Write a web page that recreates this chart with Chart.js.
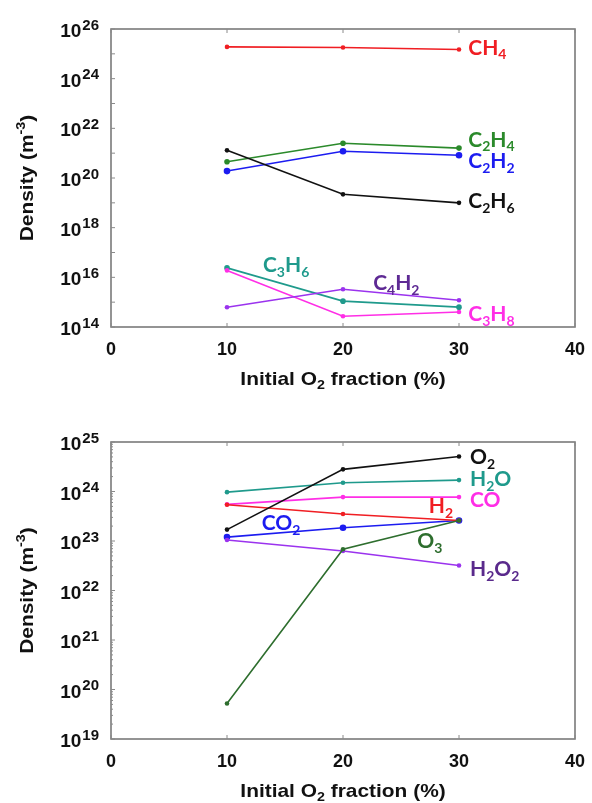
<!DOCTYPE html>
<html>
<head>
<meta charset="utf-8">
<script src="https://cdn.jsdelivr.net/npm/chart.js@4/dist/chart.umd.min.js"></script>
<style>
  html, body { margin: 0; padding: 0; background: #fff; }
  #wrap { position: relative; width: 592px; height: 803px; }
  .box { position: absolute; left: 0; width: 592px; }
</style>
</head>
<body>
<div id="wrap">
  <div class="box" style="top:0;height:400px"><canvas id="c1" width="592" height="400"></canvas></div>
  <div class="box" style="top:400px;height:403px"><canvas id="c2" width="592" height="403"></canvas></div>
</div>
<script>
// ---------- DATA ----------
const xValues = [10, 20, 30];
const xTicks = [0, 10, 20, 30, 40];

// Top panel: hydrocarbons (m^-3)
const CH4  = [1.9e25, 1.8e25, 1.5e25];
const C2H4 = [4.5e20, 2.5e21, 1.6e21];
const C2H2 = [1.9e20, 1.2e21, 8.3e20];
const C2H6 = [1.3e21, 2.2e19, 1.0e19];
const C3H6 = [2.4e16, 1.1e15, 6.3e14];
const C3H8 = [1.9e16, 2.7e14, 4.0e14];
const C4H2 = [6.2e14, 3.3e15, 1.2e15];
const topExponents = [14, 16, 18, 20, 22, 24, 26];

// Bottom panel: oxygen species (m^-3)
const O2   = [1.7e23, 2.8e24, 5.1e24];
const H2O  = [9.7e23, 1.5e24, 1.7e24];
const CO   = [5.5e23, 7.7e23, 7.7e23];
const H2   = [5.4e23, 3.5e23, 2.6e23];
const CO2  = [1.2e23, 1.85e23, 2.6e23];
const H2O2 = [1.05e23, 6.3e22, 3.2e22];
const O3   = [5.2e19, 6.8e22, 2.6e23];
const bottomExponents = [19, 20, 21, 22, 23, 24, 25];

const xTitle = 'Initial O_2 fraction (%)';
const yTitle = 'Density (m^-3)';

// ---------- STYLES ----------
const COL = {
  red: '#f01e23', green: '#2b8a2b', blue: '#1c1cf0', black: '#111111',
  teal: '#1f9a8c', magenta: '#ff2ee6', purple: '#9b33ee', dkgreen: '#2e6e2e'
};

function ds(label, values, color, r) {
  return {
    label, data: values.map((v, i) => ({ x: xValues[i], y: v })),
    borderColor: color, backgroundColor: color, borderWidth: 1.6,
    pointRadius: r || 2.3, pointHoverRadius: r || 2.3, pointBorderWidth: 0, tension: 0
  };
}

function drawRich(ctx, str, x, y, size, color, align, sx) {
  sx = sx || 1;
  const parts = [];
  let i = 0;
  while (i < str.length) {
    const ch = str[i];
    if (ch === '_' || ch === '^') {
      let j = i + 1, t = '';
      while (j < str.length && /[0-9\-]/.test(str[j])) { t += str[j]; j++; }
      parts.push({ t, mode: ch === '_' ? 'sub' : 'sup' });
      i = j;
    } else {
      let j = i, t = '';
      while (j < str.length && str[j] !== '_' && str[j] !== '^') { t += str[j]; j++; }
      parts.push({ t, mode: 'n' });
      i = j;
    }
  }
  const fam = ctx.__fam || 'Lato';
  const fontFor = m => 'bold ' + (m === 'n' ? size : Math.round(size * 0.68)) + 'px ' + fam;
  let total = 0;
  parts.forEach(p => { ctx.font = fontFor(p.mode); p.w = ctx.measureText(p.t).width; total += p.w; });
  total *= sx;
  let cx = align === 'center' ? x - total / 2 : (align === 'right' ? x - total : x);
  ctx.fillStyle = color;
  ctx.textAlign = 'left';
  ctx.textBaseline = 'alphabetic';
  parts.forEach(p => {
    ctx.font = fontFor(p.mode);
    const dy = p.mode === 'sub' ? size * 0.22 : (p.mode === 'sup' ? -size * 0.42 : 0);
    ctx.save();
    ctx.translate(cx, y + dy);
    ctx.scale(sx, 1);
    ctx.fillText(p.t, 0, 0);
    ctx.restore();
    cx += p.w * sx;
  });
  return total;
}

function makeDecor(cfg) {
  return {
    id: 'decor',
    afterDatasetsDraw(chart) {
      const ctx = chart.ctx;
      const a = chart.chartArea;
      const xs = chart.scales.x, ys = chart.scales.y;
      ctx.save();
      ctx.strokeStyle = '#7a7a7a';
      ctx.lineWidth = 1.6;
      ctx.strokeRect(a.left, a.top, a.right - a.left, a.bottom - a.top);
      ctx.lineWidth = 1;
      ctx.strokeStyle = '#8a8a8a';
      xTicks.forEach(v => {
        const px = xs.getPixelForValue(v);
        ctx.beginPath(); ctx.moveTo(px, a.bottom); ctx.lineTo(px, a.bottom - 4); ctx.stroke();
        ctx.beginPath(); ctx.moveTo(px, a.top); ctx.lineTo(px, a.top + 4); ctx.stroke();
      });
      const eMin = cfg.exps[0], eMax = cfg.exps[cfg.exps.length - 1];
      for (let e = eMin; e <= eMax; e++) {
        const py = ys.getPixelForValue(Math.pow(10, e));
        ctx.beginPath(); ctx.moveTo(a.left, py); ctx.lineTo(a.left + 4, py); ctx.stroke();
        if (cfg.minor && e < eMax) {
          for (let m = 2; m <= 9; m++) {
            const pm = ys.getPixelForValue(m * Math.pow(10, e));
            ctx.beginPath(); ctx.moveTo(a.left, pm); ctx.lineTo(a.left + 2, pm); ctx.stroke();
          }
        }
      }
      ctx.fillStyle = '#111';
      ctx.font = 'bold 18px "Liberation Sans", Arial, sans-serif';
      ctx.textAlign = 'center';
      ctx.textBaseline = 'alphabetic';
      xTicks.forEach(v => {
        ctx.fillText(String(v), xs.getPixelForValue(v), a.bottom + 28);
      });
      cfg.exps.forEach(e => {
        const py = ys.getPixelForValue(Math.pow(10, e));
        ctx.font = 'bold 15px "Liberation Sans", Arial, sans-serif';
        const ew = ctx.measureText(String(e)).width;
        ctx.textAlign = 'right';
        ctx.fillText(String(e), a.left - 12, py + 0.5);
        ctx.font = 'bold 19px "Liberation Sans", Arial, sans-serif';
        ctx.fillText('10', a.left - 13 - ew, py + 8);
      });
      ctx.__fam = '"Liberation Sans", Arial, sans-serif';
      drawRich(ctx, xTitle, (a.left + a.right) / 2, a.bottom + 58, 19, '#111', 'center', 1.1);
      ctx.save();
      ctx.translate(33, (a.top + a.bottom) / 2);
      ctx.rotate(-Math.PI / 2);
      drawRich(ctx, yTitle, 0, 0, 19, '#111', 'center', 1.1);
      ctx.restore();
      ctx.__fam = 'Lato, "Open Sans", sans-serif';
      cfg.labels.forEach(l => {
        drawRich(ctx, l.text, xs.getPixelForValue(l.x), ys.getPixelForValue(Math.pow(10, l.logY)), 21, l.color, 'left');
      });
      ctx.restore();
    }
  };
}

Chart.defaults.animation = false;

function baseOptions(yMin, yMax, pad) {
  return {
    responsive: false,
    animation: false,
    layout: { padding: pad },
    plugins: { legend: { display: false }, tooltip: { enabled: false } },
    scales: {
      x: { type: 'linear', min: 0, max: 40, display: false },
      y: { type: 'logarithmic', min: yMin, max: yMax, display: false }
    }
  };
}

const topLabels = [
  { text: 'CH_4',  x: 30.8, logY: 24.97, color: COL.red },
  { text: 'C_2H_4', x: 30.8, logY: 21.26, color: COL.green },
  { text: 'C_2H_2', x: 30.8, logY: 20.40, color: COL.blue },
  { text: 'C_2H_6', x: 30.8, logY: 18.78, color: COL.black },
  { text: 'C_3H_6', x: 13.1, logY: 16.20, color: COL.teal },
  { text: 'C_4H_2', x: 22.6, logY: 15.48, color: '#5e2a94' },
  { text: 'C_3H_8', x: 30.8, logY: 14.23, color: COL.magenta }
];

const bottomLabels = [
  { text: 'O_2',    x: 30.95, logY: 24.55, color: COL.black },
  { text: 'H_2O',   x: 30.95, logY: 24.11, color: COL.teal },
  { text: 'CO',     x: 30.95, logY: 23.68, color: COL.magenta },
  { text: 'H_2',    x: 27.4,  logY: 23.56, color: COL.red },
  { text: 'CO_2',   x: 13.0,  logY: 23.22, color: COL.blue },
  { text: 'O_3',    x: 26.4,  logY: 22.86, color: COL.dkgreen },
  { text: 'H_2O_2', x: 30.95, logY: 22.29, color: '#5a2a8c' }
];

new Chart(document.getElementById('c1'), {
  type: 'line',
  data: {
    datasets: [
      ds('CH4', CH4, COL.red),
      ds('C2H6', C2H6, COL.black),
      ds('C2H4', C2H4, COL.green, 2.8),
      ds('C2H2', C2H2, COL.blue, 3.3),
      ds('C4H2', C4H2, COL.purple),
      ds('C3H8', C3H8, COL.magenta),
      ds('C3H6', C3H6, COL.teal, 2.8)
    ]
  },
  options: baseOptions(1e14, 1e26, { left: 111, right: 17, top: 29, bottom: 73 }),
  plugins: [makeDecor({ exps: topExponents, minor: false, labels: topLabels })]
});

new Chart(document.getElementById('c2'), {
  type: 'line',
  data: {
    datasets: [
      ds('O3', O3, COL.dkgreen),
      ds('H2O2', H2O2, COL.purple),
      ds('O2', O2, COL.black),
      ds('H2O', H2O, COL.teal),
      ds('H2', H2, COL.red),
      ds('CO', CO, COL.magenta),
      ds('CO2', CO2, COL.blue, 3.3)
    ]
  },
  options: baseOptions(1e19, 1e25, { left: 111, right: 17, top: 42, bottom: 64 }),
  plugins: [makeDecor({ exps: bottomExponents, minor: true, labels: bottomLabels })]
});
</script>
</body>
</html>
